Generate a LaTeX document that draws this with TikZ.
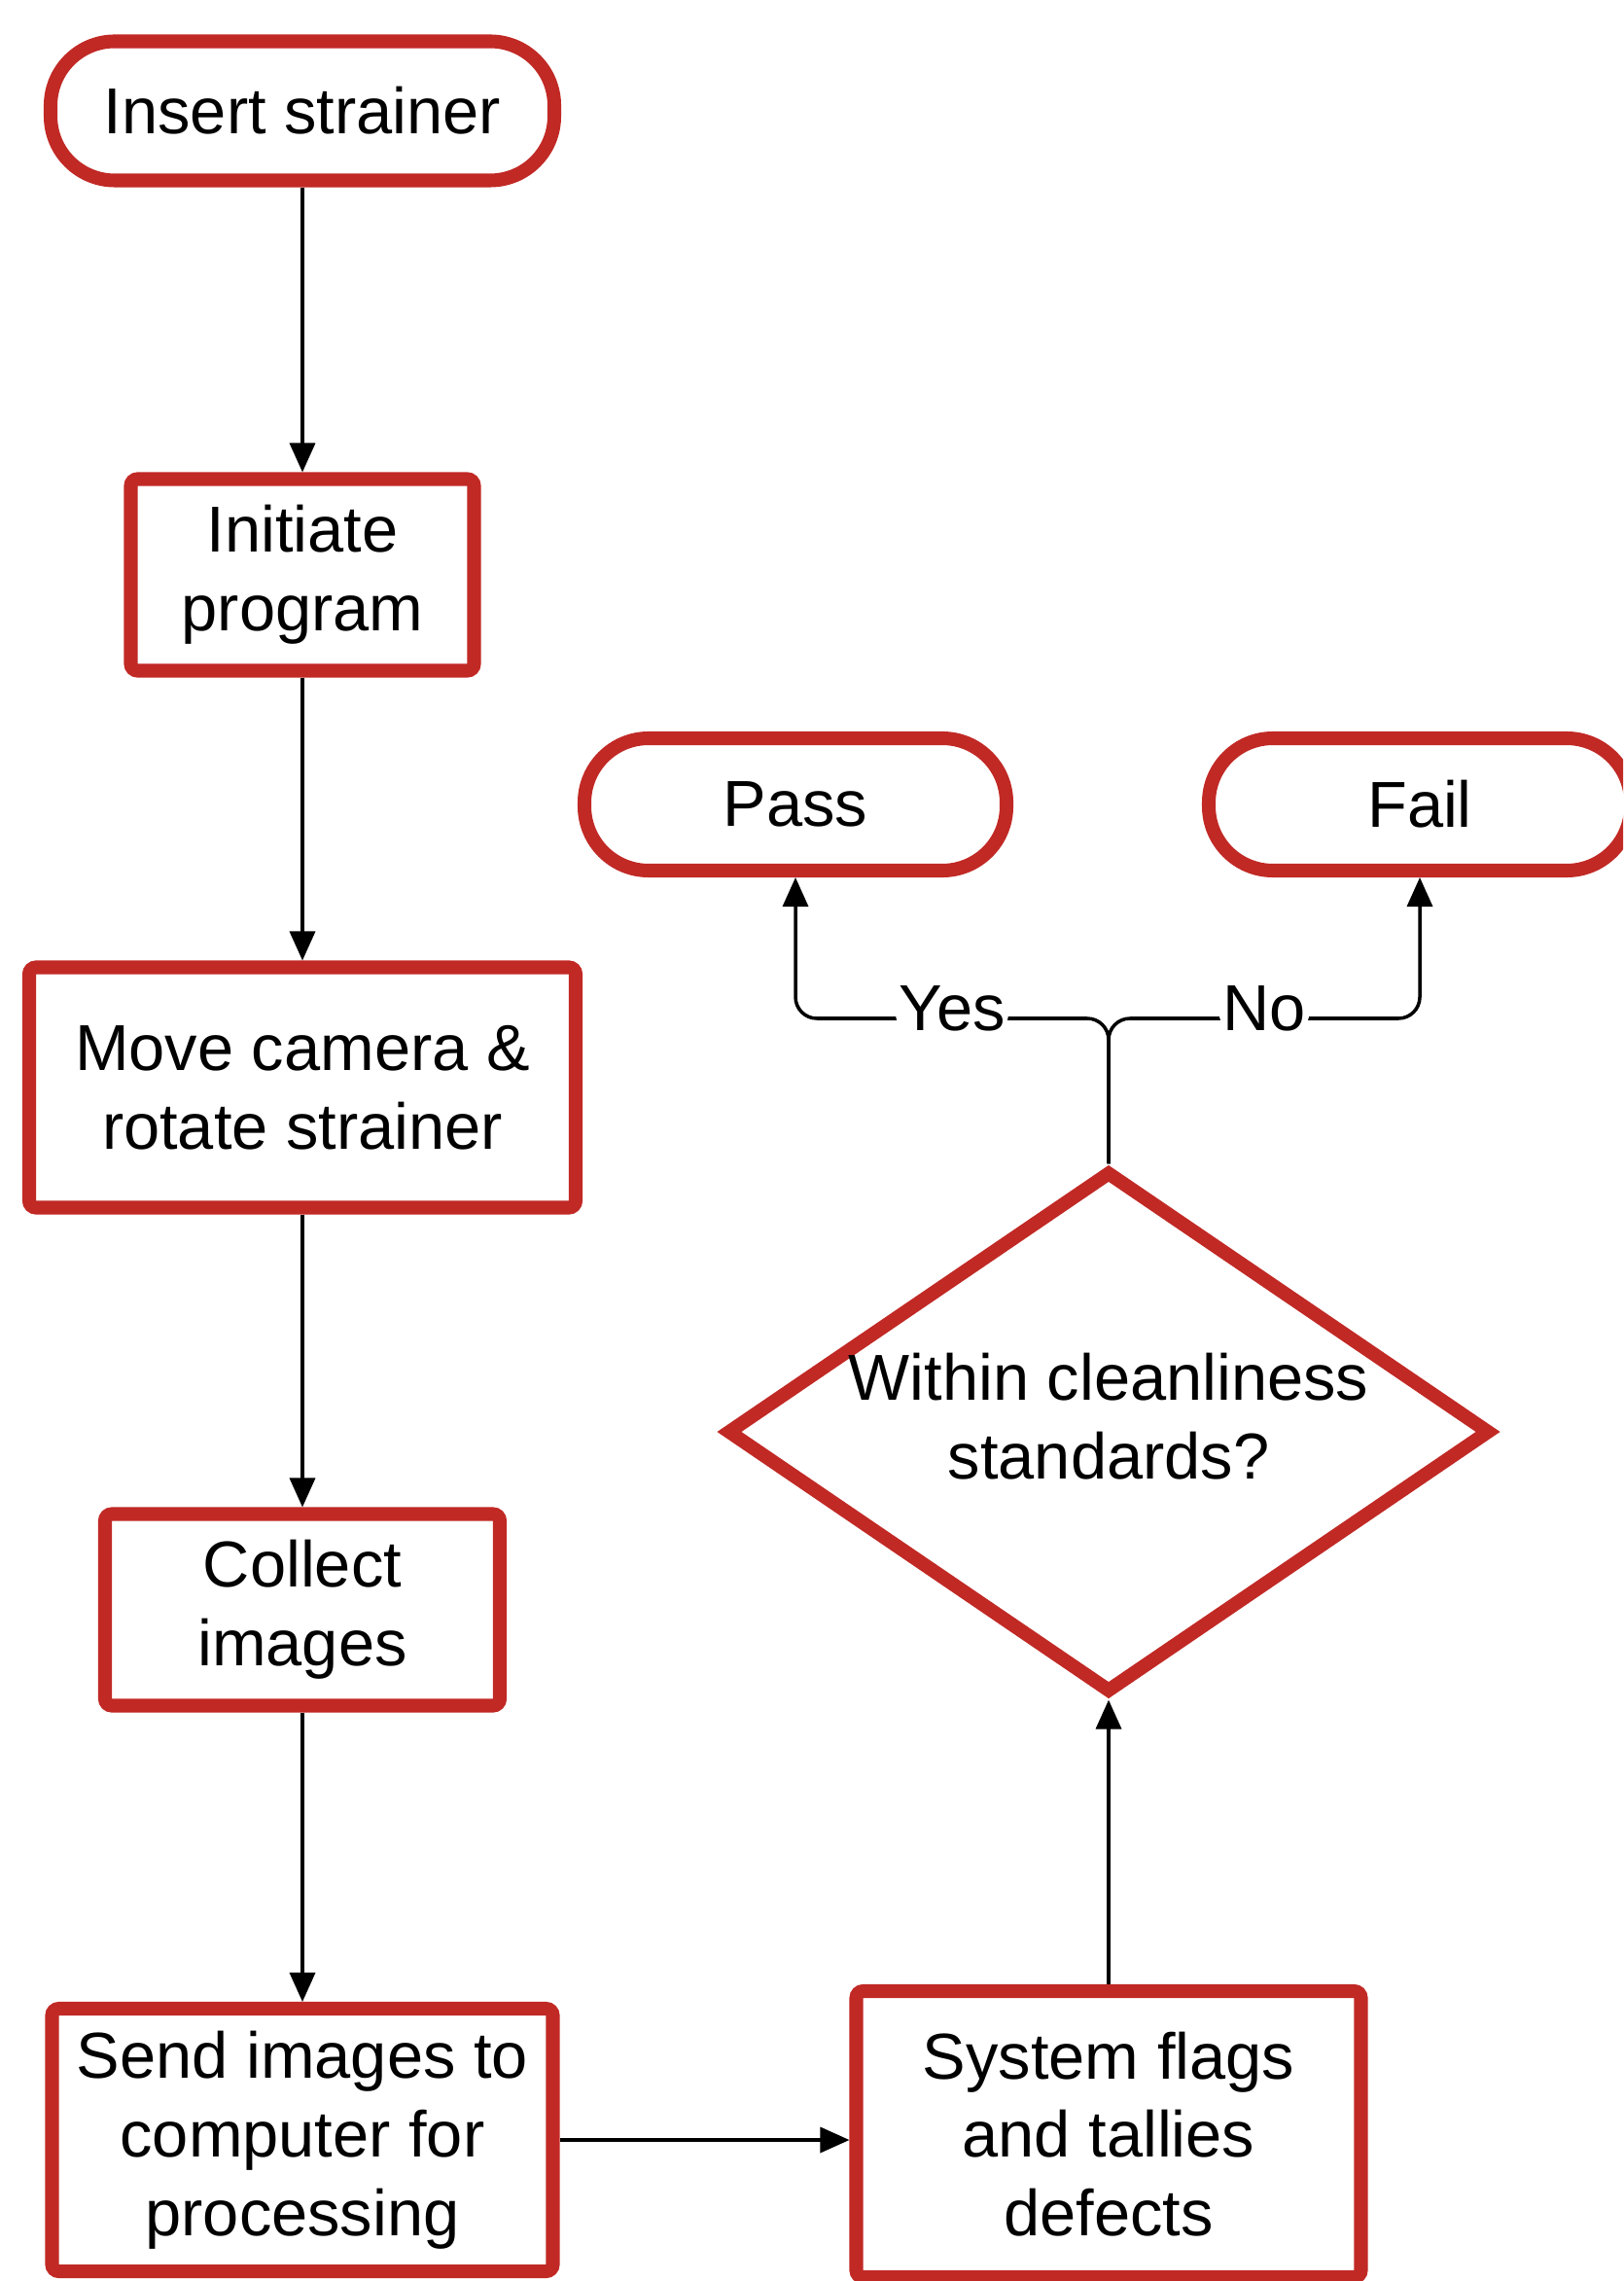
\documentclass[tikz,border=0pt]{standalone}
\usepackage{fontspec}
\setmainfont{Liberation Sans}
\usetikzlibrary{shapes.geometric, arrows.meta}

\definecolor{flowred}{RGB}{193,41,37}
\newcommand{\flowfont}{\fontsize{19pt}{23pt}\selectfont}

\tikzset{
  terminal/.style={draw=flowred, line width=4pt, rounded corners=0.66cm,
    fill=white, align=center, inner sep=0pt, font=\flowfont},
  process/.style={draw=flowred, line width=4pt, rounded corners=2pt,
    fill=white, align=center, inner sep=0pt, font=\flowfont},
  decision/.style={diamond, draw=flowred, line width=4pt, aspect=1.46,
    fill=white, align=center, inner sep=0pt, font=\flowfont},
  flow/.style={draw=black, line width=1pt,
    -{Triangle[length=0.3cm, width=0.26cm]}},
  answer/.style={fill=white, inner sep=1pt, yshift=0.1cm, font=\flowfont}
}

\begin{document}
\begin{tikzpicture}

\useasboundingbox (0,0) rectangle (16.69,-23.45);
\clip (0,0) rectangle (16.69,-23.45);

%% left column
\node[terminal, minimum width=5.18cm, minimum height=1.43cm] (insert) at (3.11,-1.14) {Insert strainer};
\node[process, minimum width=3.53cm, minimum height=1.97cm] (initiate) at (3.11,-5.91) {Initiate\\program};
\node[process, minimum width=5.62cm, minimum height=2.47cm] (move) at (3.11,-11.18) {Move camera \&\\rotate strainer};
\node[process, minimum width=4.06cm, minimum height=1.97cm] (collect) at (3.11,-16.55) {Collect\\images};
\node[process, minimum width=5.15cm, minimum height=2.70cm] (send) at (3.11,-22.00) {Send images to\\computer for\\processing};

%% right column
\node[process, minimum width=5.19cm, minimum height=2.94cm] (flags) at (11.40,-21.94) {System flags\\and tallies\\defects};
\node[decision, minimum width=7.86cm, minimum height=5.37cm, text depth=0.33cm] (check) at (11.40,-14.72) {Within cleanliness\\standards?};
\node[terminal, minimum width=4.34cm, minimum height=1.36cm] (pass) at (8.18,-8.27) {Pass};
\node[terminal, minimum width=4.34cm, minimum height=1.36cm] (fail) at (14.60,-8.27) {Fail};
\coordinate (split) at (11.40,-10.47);

%%% edges
\draw[flow] (insert) -- (initiate);
\draw[flow] (initiate) -- (move);
\draw[flow] (move) -- (collect);
\draw[flow] (collect) -- (send);
\draw[flow] (send.east) -- (send.east -| flags.west);
\draw[flow] (flags) -- (check);
\draw[flow, rounded corners=0.22cm] (check.north) -- (split) -| (pass.south) node[answer, pos=0.25] {Yes};
\draw[flow, rounded corners=0.22cm] (check.north) -- (split) -| (fail.south) node[answer, pos=0.25] {No};

\end{tikzpicture}
\end{document}
